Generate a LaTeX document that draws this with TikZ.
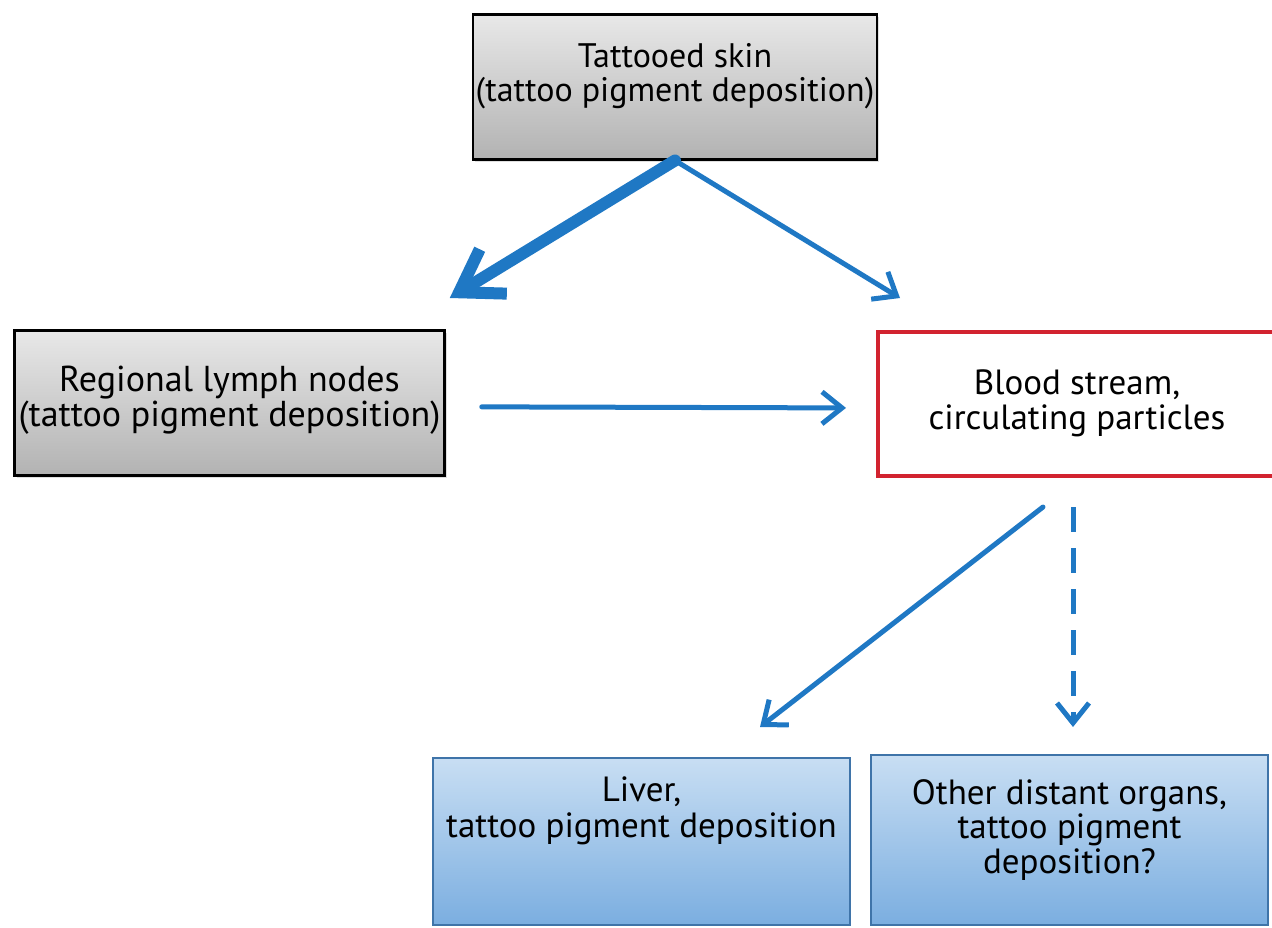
\documentclass[tikz,border=0pt]{standalone}
\usepackage{fontspec}
\setmainfont{PT Sans}
\usetikzlibrary{arrows.meta,shadows,calc}
\definecolor{flowblue}{HTML}{1F78C4}
\definecolor{flowred}{HTML}{D2232F}
\definecolor{boxblueTop}{HTML}{C8DEF3}
\definecolor{boxblueBot}{HTML}{7BAEE0}
\definecolor{boxblueLine}{HTML}{3F74A9}
\begin{document}
\begin{tikzpicture}[x=1pt,y=-1pt,
  basebox/.style={rectangle, inner sep=0pt, align=center, anchor=north},
  graybox/.style={basebox, draw=black, line width=2.5pt,
    top color=black!9, bottom color=black!30,
    drop shadow={shadow xshift=2pt, shadow yshift=-3pt, opacity=0.25}},
  redbox/.style={basebox, draw=flowred, line width=4pt, fill=white,
    font=\fontsize{35}{35}\selectfont},
  bluebox/.style={basebox, draw=boxblueLine, line width=2pt,
    top color=boxblueTop, bottom color=boxblueBot},
  flow/.style={draw=flowblue, line cap=round},
  bigflow/.style={flow, line width=12pt, -{Straight Barb[length=40pt, width=52pt]}},
  thinflow/.style={flow, line width=5pt, -{Straight Barb[length=20pt, width=32pt]}},
  dashflow/.style={thinflow, line cap=butt, dash pattern=on 25pt off 16pt}
]
\clip (0,0) rectangle (1272,927);

% boxes (text height runs from the box top to the last baseline)
\node[graybox, font=\fontsize{34}{34}\selectfont,
  minimum width=404, text height=87, text depth=58] (skin) at (675,13)
  {Tattooed skin\\(tattoo pigment deposition)};
\node[graybox, font=\fontsize{36}{35}\selectfont,
  minimum width=430, text height=96, text depth=49] (lymph) at (229.5,329)
  {Regional lymph nodes\\(tattoo pigment deposition)};
\node[redbox, minimum width=398, text height=97, text depth=47] (blood) at (1077,330)
  {Blood stream,\\circulating particles};
\node[bluebox, font=\fontsize{35}{36}\selectfont,
  minimum width=417, text height=79, text depth=88] (liver) at (641.5,757)
  {Liver,\\tattoo pigment deposition};
\node[bluebox, font=\fontsize{35}{34.5}\selectfont,
  minimum width=397, text height=118, text depth=52] (other) at (1069.5,754)
  {Other distant organs,\\tattoo pigment\\deposition?};

% arrow end points
\coordinate (lymphin) at ($(lymph.north east)+(4,-31)$);
\coordinate (bloodin) at ($(blood.north west)+(24,-32)$);
\coordinate (bloodout) at ($(blood.south)+(-34,29)$);
\coordinate (liverin) at ($(liver.north)+(118.5,-30)$);
\coordinate (dashout) at ($(blood.south)+(-4,29)$);
\coordinate (otherin) at ($(other.north)+(3.5,-27)$);

% connectors
\draw[bigflow] (skin.south) -- (lymphin);
\draw[thinflow] (skin.south) -- (bloodin);
\draw[thinflow, shorten <=36pt, shorten >=30pt]
  ([yshift=-4pt]lymph.east) -- ([yshift=-4pt]blood.west);
\draw[thinflow] (bloodout) -- (liverin);
\draw[dashflow] (dashout) -- (otherin);
\end{tikzpicture}
\end{document}
